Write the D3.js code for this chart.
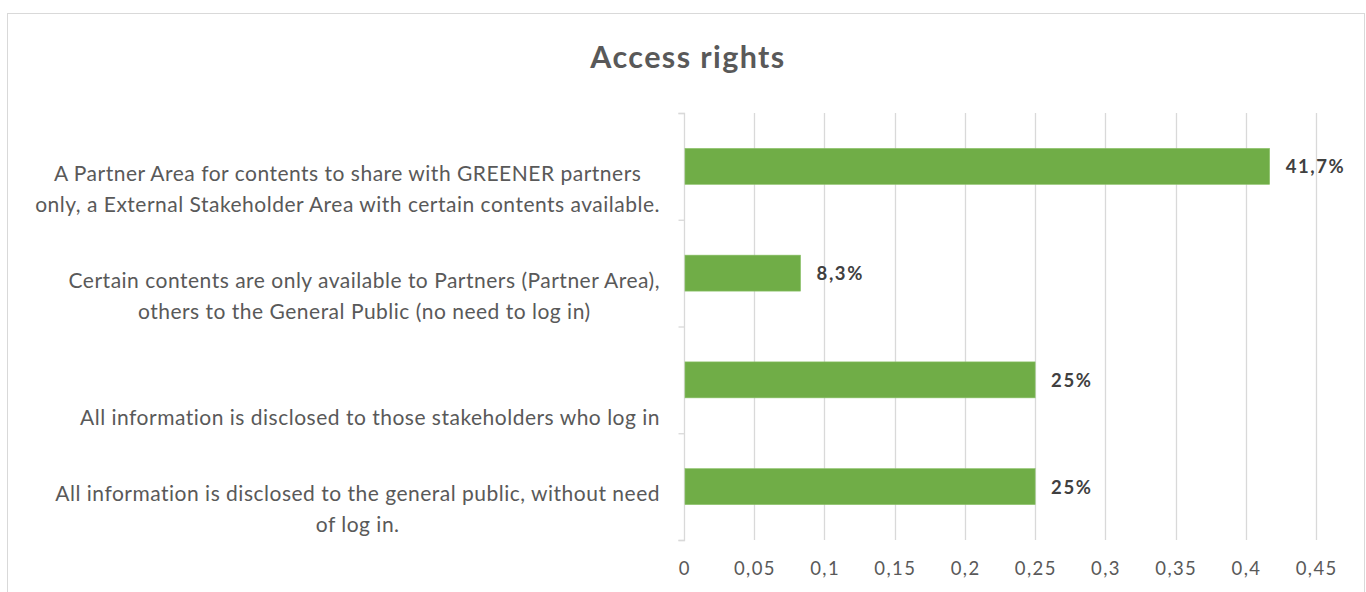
<!DOCTYPE html>
<html><head><meta charset="utf-8">
<script src="https://cdn.jsdelivr.net/npm/d3@7"></script>
<style>body{margin:0;background:#fff;} svg{display:block;}</style>
</head><body>
<script>
const title = "Access rights";
const categories = [
  ["A Partner Area for contents to share with GREENER partners", "only, a External Stakeholder Area with certain contents available."],
  ["Certain contents are only available to Partners (Partner Area),", "others to the General Public (no need to log in)"],
  ["", "All information is disclosed to those stakeholders who log in"],
  ["All information is disclosed to the general public, without need", "of log in."]
];
const values = [0.417, 0.083, 0.25, 0.25];
const valueLabels = ["41,7%", "8,3%", "25%", "25%"];
const tickValues = [0, 0.05, 0.1, 0.15, 0.2, 0.25, 0.3, 0.35, 0.4, 0.45];

const W = 1366, H = 592;
const font = "Lato, 'Open Sans', sans-serif";
const svg = d3.select("body").append("svg").attr("width", W).attr("height", H);

svg.append("rect").attr("x", 7.5).attr("y", 13.5).attr("width", 1357).attr("height", 600)
  .attr("fill", "#fff").attr("stroke", "#d9d9d9");

svg.append("text").attr("x", 688).attr("y", 68).attr("text-anchor", "middle")
  .attr("font-family", font).attr("font-weight", "bold").attr("font-size", 30.5)
  .attr("letter-spacing", 1.4)
  .attr("fill", "#595959").text(title);

const idx = categories.map((d, i) => i);
const x = d3.scaleLinear().domain([0, 0.45]).range([684, 1316]);
const pad = 0.663;
const y = d3.scaleBand().domain(idx).range([113, 540]).paddingInner(pad).paddingOuter(pad / 2);

const locale = d3.formatLocale({decimal: ",", thousands: ".", grouping: [3], currency: ["", "€"]});
const fmt = v => locale.format("~g")(+v.toFixed(2));

// gridlines
svg.append("g").selectAll("line").data(tickValues.slice(1)).join("line")
  .attr("x1", d => Math.round(x(d)) + 0.5).attr("x2", d => Math.round(x(d)) + 0.5)
  .attr("y1", 113).attr("y2", 540).attr("stroke", "#d9d9d9").attr("stroke-width", 1.3);

// x tick labels
svg.append("g").selectAll("text").data(tickValues).join("text")
  .attr("x", d => x(d) + 0.7).attr("y", 575).attr("text-anchor", "middle")
  .attr("font-family", font).attr("font-size", 18.5).attr("letter-spacing", 1.4)
  .attr("fill", "#595959")
  .text(d => fmt(d));

// y axis
const yAxisScale = d3.scaleLinear().domain([0, categories.length]).range([113, 540]);
const yAxis = d3.axisLeft(yAxisScale).tickValues(d3.range(categories.length + 1)).tickSize(6).tickFormat("");
const ga = svg.append("g").attr("transform", "translate(684.5,0)").call(yAxis);
ga.selectAll("path,line").attr("stroke", "#d9d9d9").attr("stroke-width", 1.3);
ga.select(".domain").attr("d", "M-6,113.5H0V540.5H-6");

// bars
svg.append("g").selectAll("rect").data(values).join("rect")
  .attr("x", x(0) + 1).attr("y", (d, i) => y(i))
  .attr("width", d => x(d) - x(0) - 1).attr("height", y.bandwidth())
  .attr("fill", "#70ad47").attr("stroke", "#8cc269").attr("stroke-width", 0.6);

// value labels
svg.append("g").selectAll("text").data(values).join("text")
  .attr("x", d => x(d) + 16).attr("y", (d, i) => y(i) + y.bandwidth() / 2 + 7)
  .attr("font-family", font).attr("font-weight", "bold").attr("font-size", 18.5)
  .attr("letter-spacing", 1.6)
  .attr("fill", "#404040").text((d, i) => valueLabels[i]);

// category labels
const lineH = 31;
const lab = svg.append("g").attr("font-family", font).attr("font-size", 21).attr("letter-spacing", 0.5).attr("fill", "#595959");
categories.forEach((lines, i) => {
  const cy = y(i) + y.bandwidth() / 2 + 22.5;
  const g = lab.append("g");
  const texts = lines.map((t, j) => g.append("text")
    .attr("y", cy + (j - (lines.length - 1) / 2) * lineH + 7.5).text(t));
  const widths = texts.map(t => t.node().getComputedTextLength());
  const maxW = d3.max(widths);
  const right = 660;
  texts.forEach((t, j) => t.attr("x", right - maxW / 2).attr("text-anchor", "middle"));
});
</script>
</body></html>
